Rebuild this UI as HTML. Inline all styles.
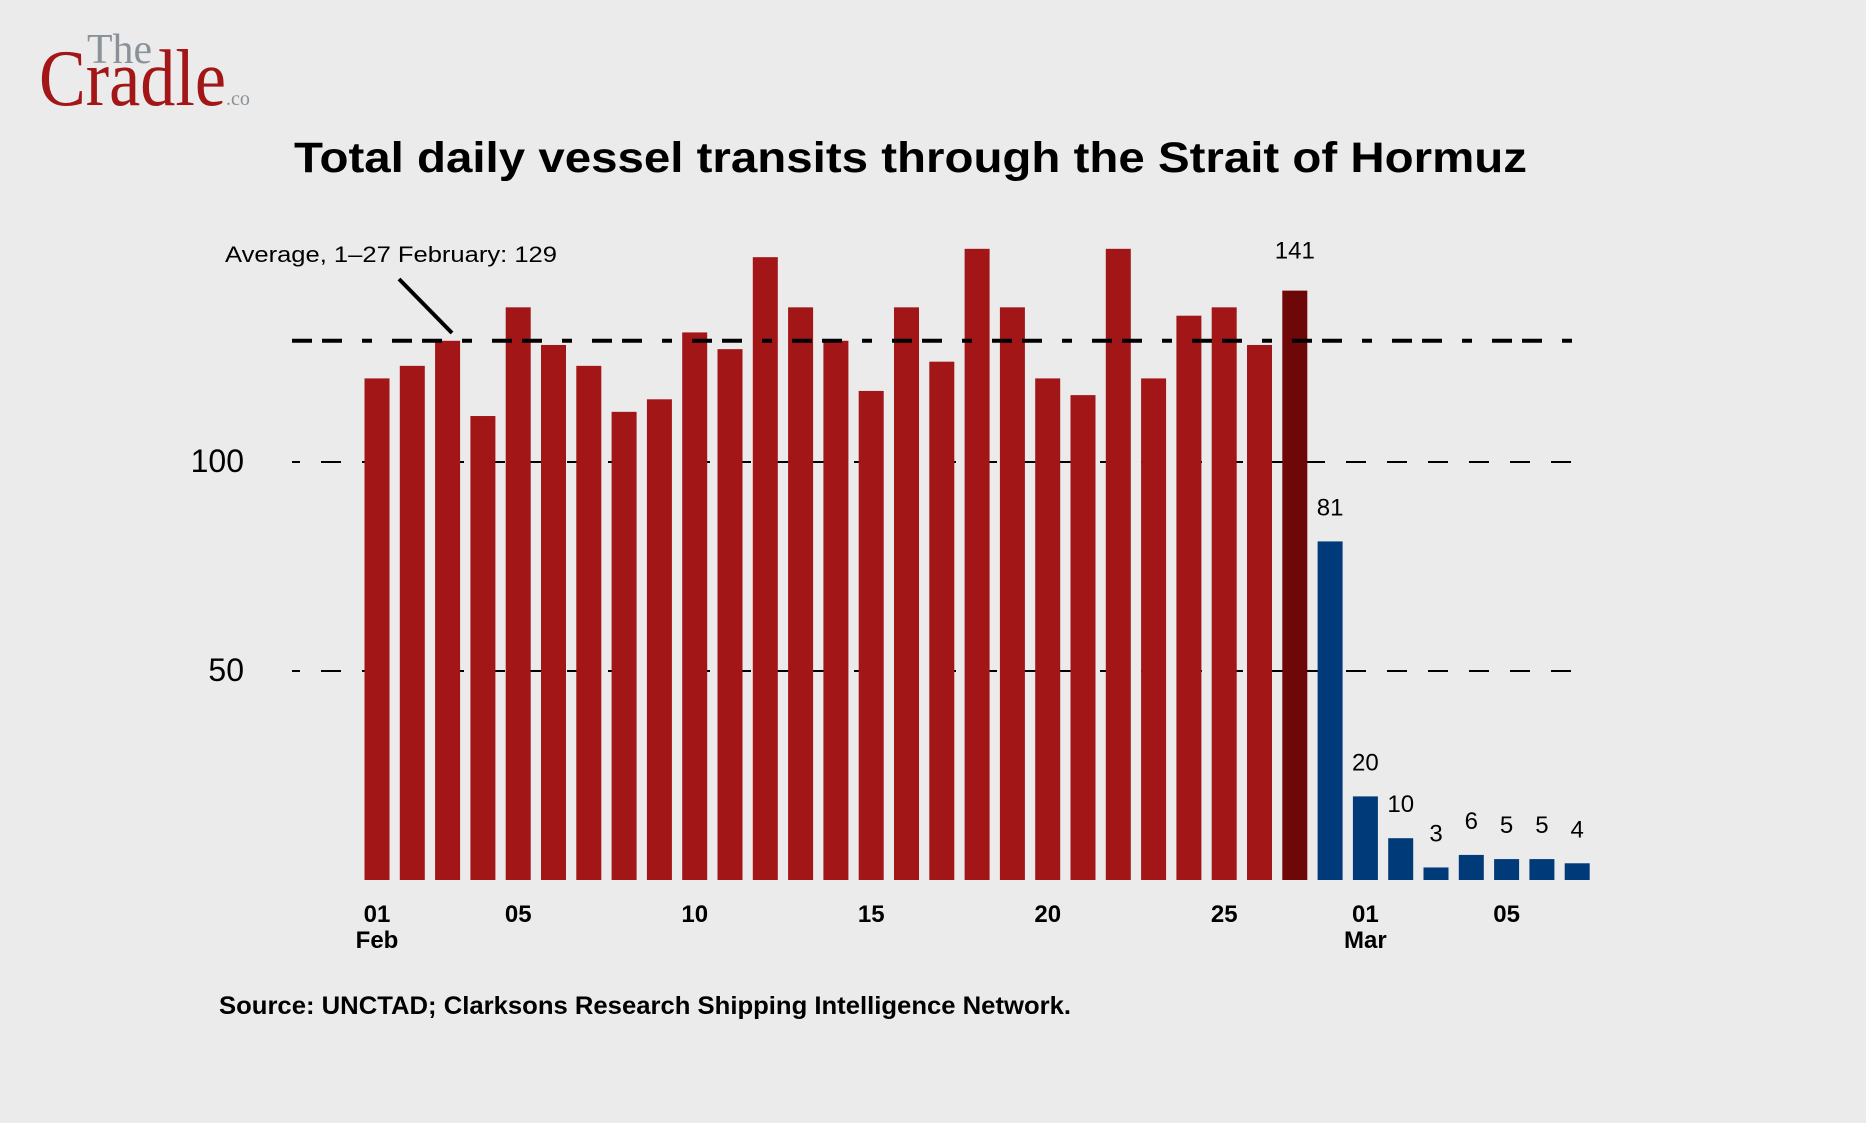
<!DOCTYPE html>
<html><head><meta charset="utf-8">
<style>
html,body{margin:0;padding:0;background:#ebebeb;}
svg{display:block;}
</style></head>
<body>
<svg id="chart" width="1866" height="1123" viewBox="0 0 1866 1123" xmlns="http://www.w3.org/2000/svg" font-family="Liberation Sans, sans-serif">
<rect width="1866" height="1123" fill="#ebebeb"/>
<g>
<text x="87" y="63" style="font-family:'Liberation Serif',serif" font-size="42" fill="#8a9299" textLength="65" lengthAdjust="spacingAndGlyphs">The</text>
<text x="39" y="105" style="font-family:'Liberation Serif',serif" font-size="80" fill="#a31618" textLength="187" lengthAdjust="spacingAndGlyphs">Cradle</text>
<text x="226" y="105" style="font-family:'Liberation Serif',serif" font-size="20" fill="#8a9299">.co</text>
</g>
<text x="294" y="172" font-size="43" font-weight="bold" fill="#000" textLength="1233" lengthAdjust="spacingAndGlyphs">Total daily vessel transits through the Strait of Hormuz</text>
<g id="grid"></g>
<g id="bars"></g>
<g id="avg"></g>
<g id="labels"></g>
<g id="xaxis"></g>
<g id="yaxis"></g>
<text x="225" y="262" font-size="22" fill="#000" textLength="332" lengthAdjust="spacingAndGlyphs">Average, 1–27 February: 129</text>
<line x1="399" y1="279" x2="452" y2="333" stroke="#000" stroke-width="4"/>
<text x="219" y="1014" font-size="25" font-weight="bold" fill="#000" textLength="852" lengthAdjust="spacingAndGlyphs">Source: UNCTAD; Clarksons Research Shipping Intelligence Network.</text>
</svg>
<script>
const febValues = [120,123,129,111,137,128,123,112,115,131,127,149,137,129,117,137,124,151,137,120,116,151,120,135,137,128,141,81];
const marValues = [20,10,3,6,5,5,4];
const labeledValues = {26:141,27:81,28:20,29:10,30:3,31:6,32:5,33:5,34:4};
const xTickIndex = [0,4,9,14,19,24,28,32];
const xTickLabels = ["01","05","10","15","20","25","01","05"];
const xTickSub = ["Feb","","","","","","Mar",""];
const yTicks = [50,100];
const averageValue = 129;

const NS = "http://www.w3.org/2000/svg";
const x0 = 377, step = 35.3, barW = 25;
const y0 = 880, pxPerUnit = 4.18;
const xScale = i => x0 + i * step;
const yScale = v => y0 - v * pxPerUnit;
function mk(tag, attrs, parent){const e=document.createElementNS(NS,tag);for(const k in attrs)e.setAttribute(k,attrs[k]);parent.appendChild(e);return e;}

const values = febValues.concat(marValues);
const grid = document.getElementById('grid');
const yaxis = document.getElementById('yaxis');
yTicks.forEach(t=>{
  const y = yScale(t);
  const l = mk('line',{x1:292,x2:1592,y1:y,y2:y,stroke:'#000','stroke-width':2,'stroke-dasharray':'20 21','stroke-dashoffset':12},grid);
  
  
  const tx = mk('text',{x:244,y:y+10,'text-anchor':'end','font-size':32,fill:'#000'},yaxis);
  tx.textContent = t;
  
  
});

const bars = document.getElementById('bars');
values.forEach((v,i)=>{
  let fill = i < 26 ? '#a31618' : (i === 26 ? '#6e0708' : '#003a78');
  const r = mk('rect',{x:xScale(i)-barW/2,y:yScale(v),width:barW,height:v*pxPerUnit,fill:fill},bars);
  
  
});

const avg = document.getElementById('avg');
const ya = yScale(averageValue);
const al = mk('line',{x1:292,x2:1592,y1:ya,y2:ya,stroke:'#000','stroke-width':4,'stroke-dasharray':'20 10 20 20 10 20'},avg);



const labels = document.getElementById('labels');
Object.keys(labeledValues).forEach(k=>{
  const i = +k, v = labeledValues[k];
  const t = mk('text',{x:xScale(i),y:yScale(v)-(i===26?32:26),'text-anchor':'middle','font-size':24,fill:'#000'},labels);
  t.textContent = v;
  
  
});

const xaxis = document.getElementById('xaxis');
xTickIndex.forEach((idx,j)=>{
  const t = mk('text',{x:xScale(idx),y:922,'text-anchor':'middle','font-size':24,'font-weight':'bold',fill:'#000'},xaxis);
  t.textContent = xTickLabels[j];
  
  
  if(xTickSub[j]){
    const s = mk('text',{x:xScale(idx),y:948,'text-anchor':'middle','font-size':24,'font-weight':'bold',fill:'#000'},xaxis);
    s.textContent = xTickSub[j];
    
    
  }
});
</script>
</body></html>
